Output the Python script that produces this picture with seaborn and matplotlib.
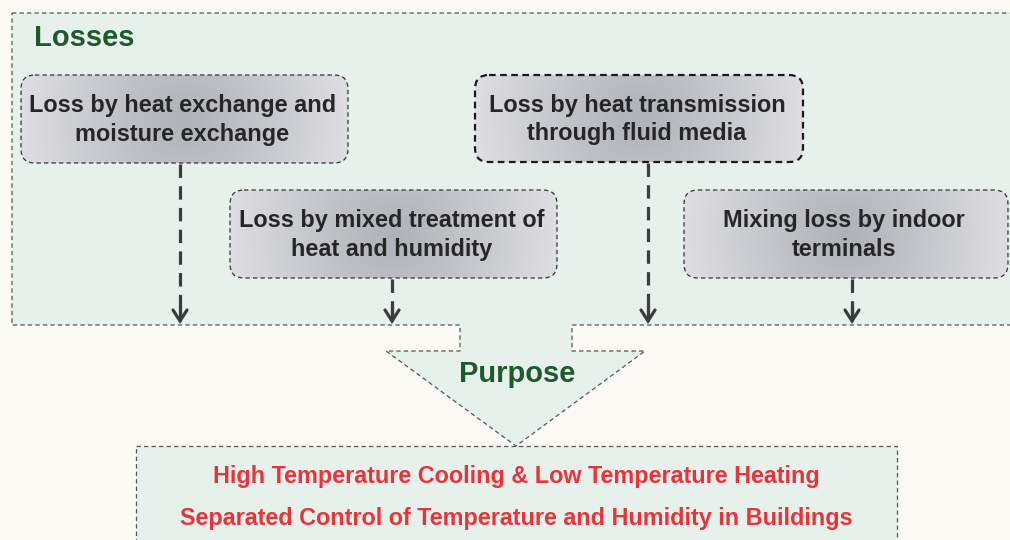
import numpy as np
import matplotlib.pyplot as plt
import seaborn as sns
from matplotlib.patches import FancyBboxPatch, Polygon

# diagram content
loss_labels = [
    "Loss by heat exchange and\nmoisture exchange",
    "Loss by mixed treatment of\nheat and humidity",
    "Loss by heat transmission\nthrough fluid media",
    "Mixing loss by indoor\nterminals",
]
# box extents in pixels: left, top, right, bottom
loss_boxes = [(21, 75, 348, 163), (230, 190, 557, 278),
              (475, 75, 803, 162), (684, 190, 1008, 278)]
arrow_x = [180, 392, 648, 852]
purpose_lines = [
    "High Temperature Cooling & Low Temperature Heating",
    "Separated Control of Temperature and Humidity in Buildings",
]

BG = "#fcfaf5"
PANEL = "#e7f1ec"
GREEN = "#1e5a2b"
RED = "#e8333a"
DARK = "#3a3d40"

sns.set_theme(style="white")
plt.rcParams["font.family"] = ["Liberation Sans", "DejaVu Sans"]

fig = plt.figure(figsize=(10.1, 5.4), dpi=100, facecolor=BG)
ax = fig.add_axes([0, 0, 1, 1])
ax.set_xlim(0, 1010)
ax.set_ylim(540, 0)
ax.axis("off")
ax.set_facecolor(BG)

dash_thin = (0, (3.5, 2.5))

# losses panel with notched bottom and purpose arrow
outline = [(12, 13), (1012, 13), (1012, 325), (572, 325), (572, 351),
           (645, 351), (516, 446), (386, 351), (460, 351), (460, 325),
           (12, 325)]
ax.add_patch(Polygon(outline, closed=True, facecolor=PANEL,
                     edgecolor="#555555", lw=0.9, ls=dash_thin, zorder=1))

# purpose box
ax.add_patch(plt.Rectangle((136, 446), 761, 120, facecolor=PANEL,
                           edgecolor="#555555", lw=0.9, ls=dash_thin, zorder=1))

ax.text(34, 38, "Losses", color=GREEN, fontsize=21, fontweight="bold",
        ha="left", va="center", zorder=5)
ax.text(517, 374, "Purpose", color=GREEN, fontsize=21, fontweight="bold",
        ha="center", va="center", zorder=5)

c_in = np.array([0.69, 0.70, 0.72])
c_out = np.array([0.87, 0.87, 0.885])


def radial_fill(w, h):
    # circular gradient, dark in the middle, light towards left/right edges
    gy, gx = np.mgrid[-1:1:100j, -1:1:200j]
    r = np.clip(np.sqrt(gx ** 2 + (gy * h / w) ** 2), 0, 1)
    return c_in + (c_out - c_in) * r[..., None] ** 1.1


for i, (label, (x0, y0, x1, y1)) in enumerate(zip(loss_labels, loss_boxes)):
    thick = i == 2
    box = FancyBboxPatch((x0, y0), x1 - x0, y1 - y0,
                         boxstyle="round,pad=0,rounding_size=14",
                         facecolor="none",
                         edgecolor="#1a1a1a" if thick else "#333333",
                         lw=1.6 if thick else 0.9,
                         ls=(0, (3, 2)) if thick else dash_thin, zorder=4)
    ax.add_patch(box)
    im = ax.imshow(radial_fill(x1 - x0, y1 - y0), extent=(x0, x1, y1, y0),
                   aspect="auto", zorder=3)
    im.set_clip_path(box)
    ax.text((x0 + x1) / 2 - 2, (y0 + y1) / 2 + 1, label, color="#262626",
            fontsize=16.9, fontweight="bold", ha="center", va="center",
            linespacing=1.3, zorder=5)

# dashed arrows down to the panel edge
for x, (x0, y0, x1, y1) in zip(arrow_x, loss_boxes):
    ax.plot([x, x], [y1 + 1, 320], color=DARK, lw=2.3,
            ls=(0, (4.2, 2.6)), solid_capstyle="butt", zorder=4)
    ax.plot([x, x], [306, 320], color=DARK, lw=2.3, zorder=4)
    ax.plot([x - 7, x, x + 7], [310, 321, 310], color=DARK, lw=2.3,
            solid_joinstyle="miter", zorder=4)

for yy, line in zip([476, 518], purpose_lines):
    ax.text(516, yy, line, color=RED, fontsize=16.8, fontweight="bold",
            ha="center", va="center", zorder=5)

fig.savefig("out.png", dpi=100, facecolor=BG)
